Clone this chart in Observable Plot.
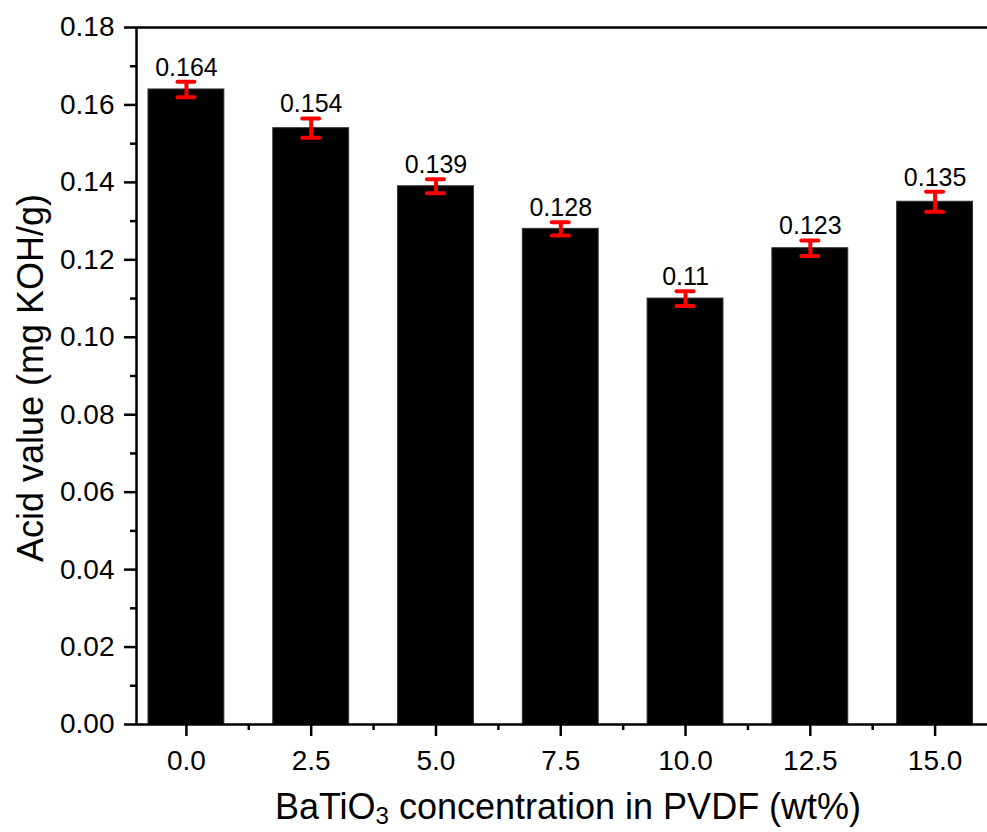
<!DOCTYPE html>
<html><head><meta charset="utf-8">
<script src="https://cdn.jsdelivr.net/npm/d3@7"></script>
<script src="https://cdn.jsdelivr.net/npm/@observablehq/plot@0.6"></script>
<style>body{margin:0;background:#fff;} svg{display:block;}</style>
</head><body><div id="chart"></div>
<script>
const concentrations = [0, 2.5, 5, 7.5, 10, 12.5, 15];
const acidValues = [0.164, 0.154, 0.139, 0.128, 0.11, 0.123, 0.135];
const errors = [0.002, 0.0025, 0.0018, 0.0017, 0.0019, 0.002, 0.0026];
const valueLabels = ["0.164", "0.154", "0.139", "0.128", "0.11", "0.123", "0.135"];
const xTickValues = [0, 2.5, 5, 7.5, 10, 12.5, 15];
const xMinorTicks = [1.25, 3.75, 6.25, 8.75, 11.25, 13.75];
const yTickValues = [0, 0.02, 0.04, 0.06, 0.08, 0.10, 0.12, 0.14, 0.16, 0.18];
const yMinorTicks = [0.01, 0.03, 0.05, 0.07, 0.09, 0.11, 0.13, 0.15, 0.17];
const xTitle = ["BaTiO", "3", " concentration in PVDF (wt%)"];
const yTitle = "Acid value (mg KOH/g)";

const halfBar = 0.76;
const halfCap = 0.17;
const data = concentrations.map((c, i) => ({
  c, v: acidValues[i], e: errors[i], label: valueLabels[i]
}));

const font = "'Liberation Sans', Arial, Helvetica, sans-serif";
const svg = Plot.plot({
  width: 987,
  height: 832,
  marginLeft: 136,
  marginRight: 0,
  marginTop: 27,
  marginBottom: 108,
  style: {fontFamily: font, color: "#000", background: "#fff", overflow: "visible"},
  x: {type: "linear", domain: [-1, 16.05]},
  y: {domain: [0, 0.18]},
  marks: [
    Plot.rectY(data, {x1: d => d.c - halfBar, x2: d => d.c + halfBar, y1: 0, y2: "v", fill: "#000", stroke: "#333", strokeWidth: 1}),
    Plot.ruleX(data, {x: "c", y1: d => d.v - d.e, y2: d => d.v + d.e, stroke: "#ff0000", strokeWidth: 4}),
    Plot.ruleY(data, {y: d => d.v + d.e, x1: d => d.c - halfCap, x2: d => d.c + halfCap, stroke: "#ff0000", strokeWidth: 4, strokeLinecap: "round"}),
    Plot.ruleY(data, {y: d => d.v - d.e, x1: d => d.c - halfCap, x2: d => d.c + halfCap, stroke: "#ff0000", strokeWidth: 4, strokeLinecap: "round"}),
    Plot.text(data, {x: "c", y: d => d.v + d.e, text: "label", lineAnchor: "bottom", dy: -6, fontSize: 25, fill: "#000"}),
    Plot.axisY({ticks: yTickValues, tickFormat: d3.format(".2f"), tickSize: 12, tickPadding: 10, fontSize: 28, strokeWidth: 2.5, label: null}),
    Plot.axisY({ticks: yMinorTicks, tickSize: 6, text: null, strokeWidth: 2.5, label: null}),
    Plot.axisX({ticks: xTickValues, tickFormat: d3.format(".1f"), tickSize: 12, tickPadding: 14, fontSize: 28, strokeWidth: 2.5, label: null}),
    Plot.axisX({ticks: xMinorTicks, tickSize: 6, text: null, strokeWidth: 2.5, label: null}),
    Plot.ruleX([-1], {stroke: "#000", strokeWidth: 2.5}),
    Plot.ruleY([0], {stroke: "#000", strokeWidth: 2.5}),
    Plot.ruleY([0.18], {stroke: "#000", strokeWidth: 2.5})
  ]
});

const s = d3.select(svg);
const xt = s.append("text")
  .attr("x", 568).attr("y", 819)
  .attr("text-anchor", "middle")
  .attr("font-family", font).attr("font-size", 36).attr("fill", "#000");
xt.append("tspan").text(xTitle[0]);
xt.append("tspan").attr("dy", 5).attr("font-size", 24).text(xTitle[1]);
xt.append("tspan").attr("dy", -5).text(xTitle[2]);

s.append("text")
  .attr("transform", "translate(43,378) rotate(-90)")
  .attr("text-anchor", "middle")
  .attr("font-family", font).attr("font-size", 36).attr("fill", "#000")
  .text(yTitle);

document.getElementById("chart").appendChild(svg);
</script>
</body></html>
